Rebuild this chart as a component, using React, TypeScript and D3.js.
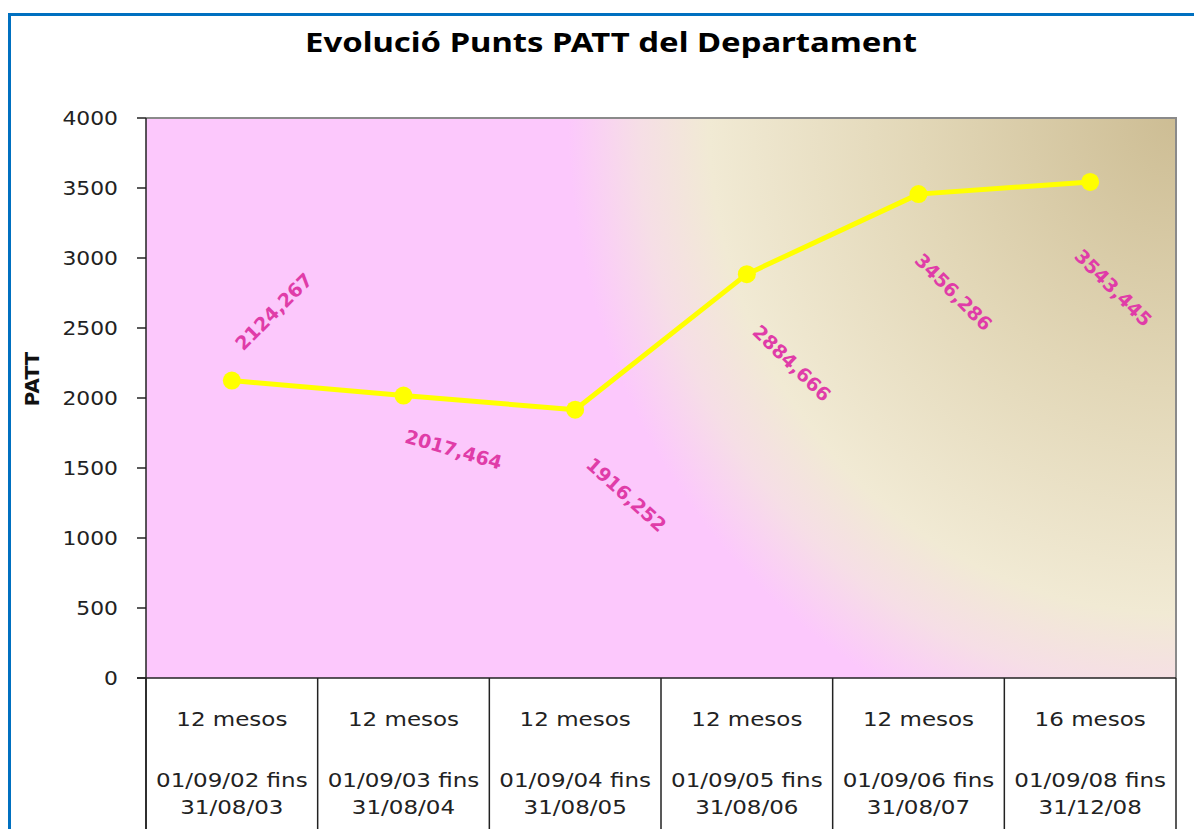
import React from "react";
import * as d3 from "d3";

// ---- data ----
const durations = ["12 mesos", "12 mesos", "12 mesos", "12 mesos", "12 mesos", "16 mesos"];
const periodStarts = ["01/09/02 fins", "01/09/03 fins", "01/09/04 fins", "01/09/05 fins", "01/09/06 fins", "01/09/08 fins"];
const periodEnds = ["31/08/03", "31/08/04", "31/08/05", "31/08/06", "31/08/07", "31/12/08"];
const pattPoints = [2124.267, 2017.464, 1916.252, 2884.666, 3456.286, 3543.445];
const yTicks = [0, 500, 1000, 1500, 2000, 2500, 3000, 3500, 4000];
const chartTitle = "Evolució Punts PATT del Departament";
const yAxisTitle = "PATT";

// label placement (style only)
const labelPlacement = [
  { dx: 42, dy: -69, angle: -45 },
  { dx: 50, dy: 54, angle: 16 },
  { dx: 51, dy: 85, angle: 42 },
  { dx: 45, dy: 89, angle: 44 },
  { dx: 35, dy: 98, angle: 45 },
  { dx: 23, dy: 106, angle: 45 },
];

const W = 1194;
const H = 829;
const plot = { left: 146, right: 1176, top: 118, bottom: 678 };
const AXIS_FONT = "'DejaVu Sans', Verdana, sans-serif";
const TITLE_FONT = "'Noto Sans', 'Open Sans', sans-serif";
const STRETCH = 1.15;

const fmt = (v: number) => v.toFixed(3).replace(".", ",");

export default function App() {
  const idx = pattPoints.map((_, i) => i);
  const x = d3.scaleBand<number>().domain(idx).range([plot.left, plot.right]).padding(0);
  const y = d3.scaleLinear().domain([0, 4000]).range([plot.bottom, plot.top]);
  const cx = (i: number) => (x(i) as number) + x.bandwidth() / 2;

  const line = d3
    .line<number>()
    .x((_, i) => cx(i))
    .y((d) => y(d));

  const bandEdges = [...idx.map((i) => x(i) as number), plot.right];

  return (
    <svg
      width={W}
      height={H}
      style={{ position: "absolute", left: 0, top: 0, display: "block", background: "#fff" }}
    >
      <defs>
        <radialGradient
          id="bg"
          gradientUnits="userSpaceOnUse"
          cx={plot.right}
          cy={plot.top}
          r={640}
          gradientTransform={`translate(${plot.right},${plot.top}) scale(1,1.06) translate(${-plot.right},${-plot.top})`}
        >
          <stop offset="0" stopColor="#CDBD94" />
          <stop offset="0.4" stopColor="#E2D7B7" />
          <stop offset="0.73" stopColor="#F1EAD4" />
          <stop offset="0.84" stopColor="#F6DEE6" />
          <stop offset="0.95" stopColor="#FCC8FC" />
          <stop offset="1" stopColor="#FCC8FC" />
        </radialGradient>
      </defs>

      {/* outer frame */}
      <rect x={9.5} y={14.5} width={1400} height={1000} fill="none" stroke="#0070C0" strokeWidth={3} />

      {/* title */}
      <text
        x={611}
        y={52}
        textAnchor="middle"
        fontFamily={TITLE_FONT}
        fontWeight="bold"
        fontSize={26}
        textLength={612}
        lengthAdjust="spacingAndGlyphs"
        fill="#000"
      >
        {chartTitle}
      </text>

      {/* plot background */}
      <rect
        x={plot.left}
        y={plot.top}
        width={plot.right - plot.left}
        height={plot.bottom - plot.top}
        fill="url(#bg)"
      />
      {/* plot border top/right */}
      <path
        d={`M${plot.left},${plot.top}H${plot.right}V${plot.bottom}`}
        fill="none"
        stroke="#8a8a8a"
        strokeWidth={2}
      />

      {/* y axis */}
      <line x1={plot.left} x2={plot.left} y1={plot.top} y2={H} stroke="#222" strokeWidth={1.5} />
      {yTicks.map((t) => (
        <g key={t}>
          <line x1={137} x2={plot.left} y1={y(t)} y2={y(t)} stroke="#222" strokeWidth={1.5} />
          <text
            transform={`translate(118,${y(t) + 7}) scale(${STRETCH},1)`}
            textAnchor="end"
            fontFamily={AXIS_FONT}
            fontSize={19}
            fill="#222"
          >
            {t}
          </text>
        </g>
      ))}
      <text
        transform={`translate(39,379) rotate(-90)`}
        textAnchor="middle"
        fontFamily={AXIS_FONT}
        fontWeight="bold"
        fontSize={20}
        fill="#111"
      >
        {yAxisTitle}
      </text>

      {/* x axis / data table */}
      <line x1={137} x2={plot.right} y1={plot.bottom} y2={plot.bottom} stroke="#222" strokeWidth={1.5} />
      {bandEdges.map((e, i) => (
        <line key={i} x1={e} x2={e} y1={plot.bottom} y2={H} stroke="#222" strokeWidth={1.5} />
      ))}
      {idx.map((i) => (
        <g key={i} fontFamily={AXIS_FONT} fontSize={20} fill="#222">
          <text transform={`translate(${cx(i)},726) scale(${STRETCH},1)`} textAnchor="middle">
            {durations[i]}
          </text>
          <text transform={`translate(${cx(i)},787) scale(${STRETCH},1)`} textAnchor="middle">
            {periodStarts[i]}
          </text>
          <text transform={`translate(${cx(i)},814) scale(${STRETCH},1)`} textAnchor="middle">
            {periodEnds[i]}
          </text>
        </g>
      ))}

      {/* series line */}
      <path d={line(pattPoints) || ""} fill="none" stroke="#FFFF00" strokeWidth={5} strokeLinejoin="round" />
      {pattPoints.map((v, i) => (
        <circle key={i} cx={cx(i)} cy={y(v)} r={9} fill="#FFFF00" />
      ))}

      {/* data labels */}
      {pattPoints.map((v, i) => {
        const p = labelPlacement[i];
        return (
          <text
            key={i}
            transform={`translate(${cx(i) + p.dx},${y(v) + p.dy}) rotate(${p.angle})`}
            textAnchor="middle"
            dy="0.35em"
            fontFamily={AXIS_FONT}
            fontWeight="bold"
            fontSize={19}
            fill="#E03CA8"
          >
            {fmt(v)}
          </text>
        );
      })}
    </svg>
  );
}
